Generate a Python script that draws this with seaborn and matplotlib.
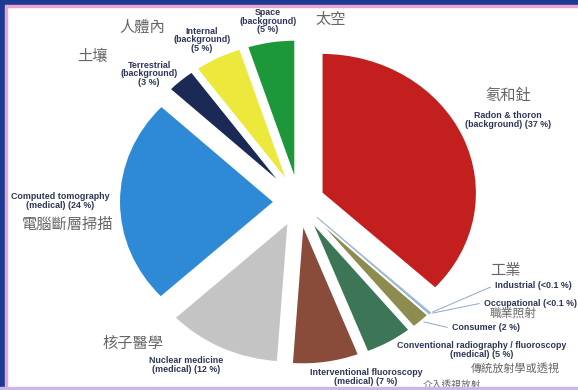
import matplotlib
matplotlib.use("Agg")
import matplotlib.pyplot as plt
import seaborn as sns
import numpy as np
from matplotlib.patches import Rectangle

sns.set_style("white")
plt.rcParams['font.family'] = ['Liberation Sans', 'Noto Sans CJK TC', 'DejaVu Sans']

# Data: sources of radiation exposure, clockwise from the top
sources = ['Radon & thoron', 'Industrial', 'Occupational', 'Consumer',
           'Conventional radiography / fluoroscopy', 'Interventional fluoroscopy',
           'Nuclear medicine', 'Computed tomography', 'Terrestrial',
           'Internal', 'Space']
shares = [37, 0.1, 0.1, 2, 5, 7, 12, 24, 3, 5, 5]
zh_names = ['氡和釷', '工業', '職業照射', None, '傳統放射學或透視', '介入透視放射',
            '核子醫學', '電腦斷層掃描', '土壤', '人體內', '太空']
colors = ['#c41f1f', '#9cbad6', '#9cbad6', '#8c8c4e', '#3d7656', '#8a4c3a',
          '#c4c4c4', '#2e8ad6', '#1b2a55', '#ece83c', '#1c983a']

# English label text
en_labels = [
    'Radon & thoron\n(background) (37 %)',
    'Industrial (<0.1 %)',
    'Occupational (<0.1 %)',
    'Consumer (2 %)',
    'Conventional radiography / fluoroscopy\n(medical) (5 %)',
    'Interventional fluoroscopy\n(medical) (7 %)',
    'Nuclear medicine\n(medical) (12 %)',
    'Computed tomography\n(medical) (24 %)',
    'Terrestrial\n(background)\n(3 %)',
    'Internal\n(background)\n(5 %)',
    'Space\n(background)\n(5 %)',
]

# layout (pixel positions in the 578x390 image)
W, H = 578, 390
CX, CY, RX, RY = 299, 202, 155, 140
en_pos = [(508, 120, 'center'), (495, 286, 'left'), (484, 303, 'left'),
          (452, 328, 'left'), (482, 350, 'center'), (366, 377, 'center'),
          (186, 365, 'center'), (60, 201, 'center'), (149, 74, 'center'),
          (202, 40, 'center'), (268, 21, 'center')]
zh_pos = [(508, 95, 11), (505, 271, 11), (513, 313, 8.5), None,
          (515, 368, 8), (452, 385, 7), (133, 343, 11), (68, 224, 11),
          (92, 56, 11), (142, 27, 11), (331, 19, 11)]
leaders = {1, 2, 3}


def fig_xy(x, y):
    return x / W, 1 - y / H


fig = plt.figure(figsize=(5.78, 3.9), dpi=100)
fig.patch.set_facecolor('white')
ax = fig.add_axes([0, 0, 1, 1])

wedges, _ = ax.pie(
    shares,
    colors=colors,
    startangle=90,
    counterclock=False,
    explode=[0.16] * len(shares),
    wedgeprops=dict(edgecolor='white', linewidth=1.2),
)
for i, w in enumerate(wedges):
    if shares[i] < 1:
        w.set_edgecolor(colors[i])
        w.set_linewidth(0.6)

ax.set_aspect('auto')
ax.set_xlim(-CX / RX, (W - CX) / RX)
ax.set_ylim(-(H - CY) / RY, CY / RY)
ax.axis('off')

for i, txt in enumerate(en_labels):
    x, y, ha = en_pos[i]
    fx, fy = fig_xy(x, y)
    if i in leaders:
        w = wedges[i]
        th = np.deg2rad((w.theta1 + w.theta2) / 2)
        px = w.center[0] + w.r * np.cos(th)
        py = w.center[1] + w.r * np.sin(th)
        ax.annotate('', xy=(px, py), xytext=(fx - 2 / W, fy),
                    textcoords='figure fraction',
                    arrowprops=dict(arrowstyle='-', color='#8fa8c4', lw=0.7))
    fig.text(fx, fy, txt, ha=ha, va='center', fontsize=6.4,
             fontweight='bold', color='#2c3756', linespacing=0.95)

for i, pos in enumerate(zh_pos):
    if pos is None:
        continue
    x, y, fs = pos
    fx, fy = fig_xy(x, y)
    fig.text(fx, fy, zh_names[i], ha='center', va='center', fontsize=fs,
             color='#666666', family=['Noto Sans CJK TC', 'DejaVu Sans'])

# frame of the original slide
fig.patches.append(Rectangle((0, 1 - 5 / H), 1, 5 / H, transform=fig.transFigure,
                             color='#1d3a94', zorder=5))
fig.patches.append(Rectangle((0, 1 - 6.5 / H), 1, 1.5 / H, transform=fig.transFigure,
                             color='#e6a8cc', zorder=5))
fig.patches.append(Rectangle((0, 0), 5 / W, 1, transform=fig.transFigure,
                             color='#1d3a94', zorder=5))
fig.patches.append(Rectangle((5 / W, 0), 1.5 / W, 1 - 5 / H, transform=fig.transFigure,
                             color='#e6a8cc', zorder=5))
fig.patches.append(Rectangle((0, 1 / H), 1, 2 / H, transform=fig.transFigure,
                             color='#c9b8e6', zorder=5))

fig.savefig('out.png', dpi=100, facecolor='white')
